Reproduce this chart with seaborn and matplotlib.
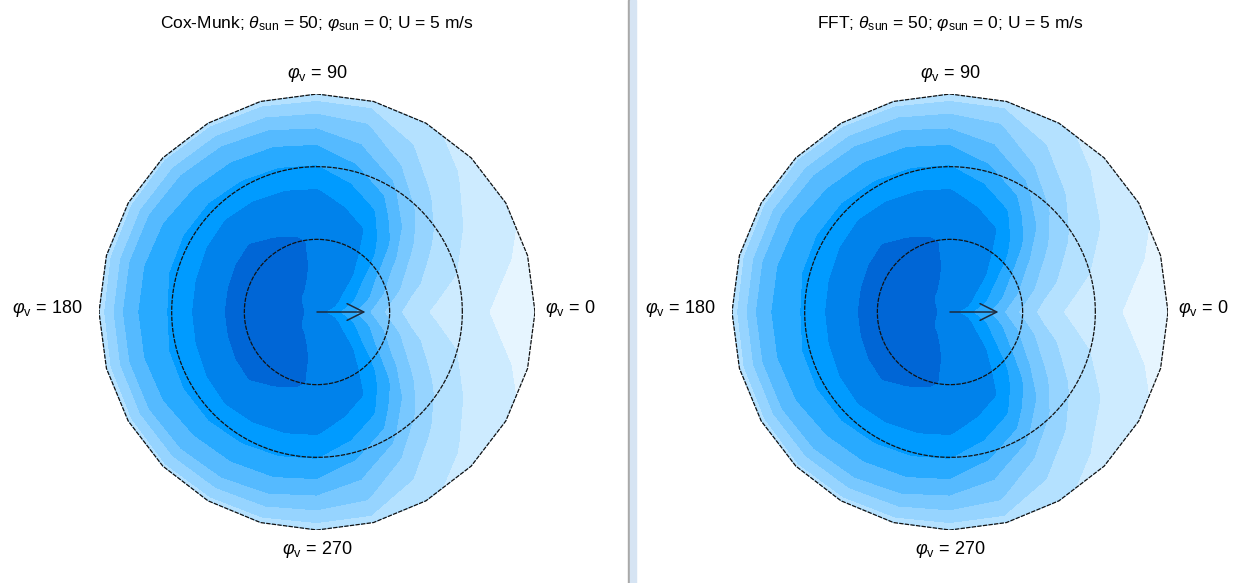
import numpy as np
import matplotlib
matplotlib.use('Agg')
import matplotlib.pyplot as plt
from matplotlib.colors import ListedColormap, BoundaryNorm
from matplotlib.patches import Rectangle
import seaborn as sns

# viewing geometry of the grid (degrees)
zenith = [0, 10, 20, 30, 40, 50, 60, 70, 80, 90]
azimuth_half = [0, 15, 30, 45, 60, 75, 90, 105, 120, 135, 150, 165, 180]

# band value (0 = darkest band), one row per azimuth 0..180,
# columns follow `zenith`; the field is mirror-symmetric about phi = 0
cox_munk = [
    [1.3, 3.0, 4.6, 6.3, 7.6, 8.2, 8.5, 8.95, 9.3, 9.6],  # 0
    [1.3, 2.2, 3.6, 5.2, 6.6, 7.5, 8.0, 8.5, 8.9, 9.2],   # 15
    [1.3, 1.85, 2.9, 4.2, 5.5, 6.6, 7.4, 8.0, 8.4, 8.8],  # 30
    [1.3, 1.5, 1.9, 2.6, 3.6, 5.0, 6.3, 7.3, 7.9, 8.3],   # 45
    [1.3, 1.3, 1.4, 1.6, 2.05, 3.2, 4.6, 6.0, 7.0, 7.8],  # 60
    [1.3, 1.25, 1.2, 1.3, 1.6, 2.4, 3.6, 4.8, 5.9, 7.4],  # 75
    [1.3, 1.2, 1.1, 1.15, 1.4, 1.9, 2.9, 4.1, 5.6, 7.5],  # 90
    [1.3, 1.05, 0.95, 0.9, 1.3, 1.8, 2.8, 3.9, 5.3, 7.4], # 105
    [1.3, 1.0, 0.8, 0.8, 1.15, 1.7, 2.7, 3.8, 5.1, 7.3],  # 120
    [1.3, 0.95, 0.6, 0.6, 1.0, 1.6, 2.6, 3.7, 5.0, 7.2],  # 135
    [1.3, 0.85, 0.4, 0.5, 1.05, 1.7, 2.7, 3.5, 4.9, 7.3], # 150
    [1.3, 0.75, 0.3, 0.5, 1.1, 1.8, 2.8, 3.4, 4.9, 7.4],  # 165
    [1.3, 0.7, 0.3, 0.5, 1.1, 1.8, 2.9, 3.4, 4.9, 7.5],   # 180
]

fft = [
    [1.3, 3.0, 4.5, 6.2, 7.5, 8.2, 8.5, 8.95, 9.3, 9.6],  # 0
    [1.3, 2.2, 3.6, 5.1, 6.5, 7.4, 8.0, 8.5, 8.9, 9.2],   # 15
    [1.3, 1.85, 2.9, 4.1, 5.4, 6.5, 7.3, 7.9, 8.4, 8.8],  # 30
    [1.3, 1.5, 1.9, 2.6, 3.6, 4.9, 6.2, 7.2, 7.9, 8.3],   # 45
    [1.3, 1.3, 1.4, 1.6, 2.05, 3.2, 4.6, 6.0, 7.0, 7.8],  # 60
    [1.3, 1.25, 1.2, 1.3, 1.6, 2.4, 3.6, 4.8, 5.9, 7.4],  # 75
    [1.3, 1.2, 1.1, 1.15, 1.4, 1.9, 2.9, 4.1, 5.6, 7.5],  # 90
    [1.3, 1.05, 0.95, 0.9, 1.3, 1.8, 2.8, 3.9, 5.3, 7.4], # 105
    [1.3, 1.0, 0.8, 0.8, 1.15, 1.7, 2.7, 3.8, 5.1, 7.3],  # 120
    [1.3, 0.95, 0.6, 0.6, 1.0, 1.6, 2.6, 3.7, 5.0, 7.2],  # 135
    [1.3, 0.85, 0.4, 0.5, 1.05, 1.7, 2.7, 3.5, 4.9, 7.3], # 150
    [1.3, 0.75, 0.3, 0.5, 1.1, 1.8, 2.8, 3.4, 4.9, 7.4],  # 165
    [1.3, 0.7, 0.3, 0.5, 1.1, 1.8, 2.9, 3.4, 4.9, 7.5],   # 180
]

band_colors = ['#0066D6', '#0082EB', '#009BFF', '#28AAFF', '#55BAFF',
               '#78C8FF', '#96D4FF', '#B4E1FF', '#CDEBFF', '#E6F5FF']

titles = [r'Cox-Munk; $\theta_\mathrm{sun}$ = 50; $\varphi_\mathrm{sun}$ = 0; U = 5 m/s',
          r'FFT; $\theta_\mathrm{sun}$ = 50; $\varphi_\mathrm{sun}$ = 0; U = 5 m/s']

sns.set_style('white')
plt.rcParams['font.family'] = ['Liberation Sans', 'DejaVu Sans']
plt.rcParams['mathtext.fontset'] = 'custom'
plt.rcParams['mathtext.rm'] = 'Liberation Sans'
plt.rcParams['mathtext.it'] = 'Liberation Sans:italic'
plt.rcParams['mathtext.bf'] = 'Liberation Sans:bold'
plt.rcParams['text.color'] = 'black'

cmap = ListedColormap(sns.color_palette(band_colors))
levels = np.arange(0, 11)
norm = BoundaryNorm(levels, cmap.N)


def full_grid(table):
    half = np.array(table)
    # mirror 195..345 from 165..15, then close at 360
    full = np.vstack([half, half[-2:0:-1], half[:1]])
    az = np.array(azimuth_half + [360 - a for a in azimuth_half[-2:0:-1]] + [360])
    return np.deg2rad(az), full


W, H = 1245, 583
fig = plt.figure(figsize=(W / 100, H / 100), dpi=100)

centers = [(317, 312), (950, 312)]
R = 218  # px for 90 deg
dash = (0, (3.5, 1.0))

for (cx, cy), table, title in zip(centers, [cox_munk, fft], titles):
    ax = fig.add_axes([(cx - R) / W, (H - cy - R) / H, 2 * R / W, 2 * R / H])
    az, F = full_grid(table)
    TH, ZE = np.meshgrid(az, zenith, indexing='ij')
    X = ZE * np.cos(TH)
    Y = ZE * np.sin(TH)
    ax.contourf(X, Y, F, levels=levels, cmap=cmap, norm=norm, extend='both')

    # grid edge and zenith circles
    ax.plot(90 * np.cos(az), 90 * np.sin(az), color='#111111', lw=0.9, ls=dash)
    t = np.linspace(0, 2 * np.pi, 300)
    for rr in (30, 60):
        ax.plot(rr * np.cos(t), rr * np.sin(t), color='#111111', lw=0.9, ls=dash)

    ax.annotate('', xy=(20, 0), xytext=(0, 0),
                arrowprops=dict(arrowstyle='->', color='#1c2a3c', lw=1.1,
                                mutation_scale=30, shrinkA=0, shrinkB=0))

    ax.text(0, 98.5, r'$\varphi_\mathrm{v}$ = 90', ha='center', va='center', fontsize=13)
    ax.text(0, -98, r'$\varphi_\mathrm{v}$ = 270', ha='center', va='center', fontsize=13)
    ax.text(-97, 1.5, r'$\varphi_\mathrm{v}$ = 180', ha='right', va='center', fontsize=13)
    ax.text(94, 1.5, r'$\varphi_\mathrm{v}$ = 0', ha='left', va='center', fontsize=13)
    ax.text(0, 119, title, ha='center', va='center', fontsize=12.5)

    ax.set_xlim(-90, 90)
    ax.set_ylim(-90, 90)
    ax.set_aspect('equal')
    ax.axis('off')

# window splitter between the two panels
fig.patches.append(Rectangle((628 / W, 0), 2 / W, 1, transform=fig.transFigure,
                             color='#A9A9A9', zorder=5))
fig.patches.append(Rectangle((630 / W, 0), 6 / W, 1, transform=fig.transFigure,
                             color='#D6E4F3', zorder=5))

fig.savefig('out.png', dpi=100)
